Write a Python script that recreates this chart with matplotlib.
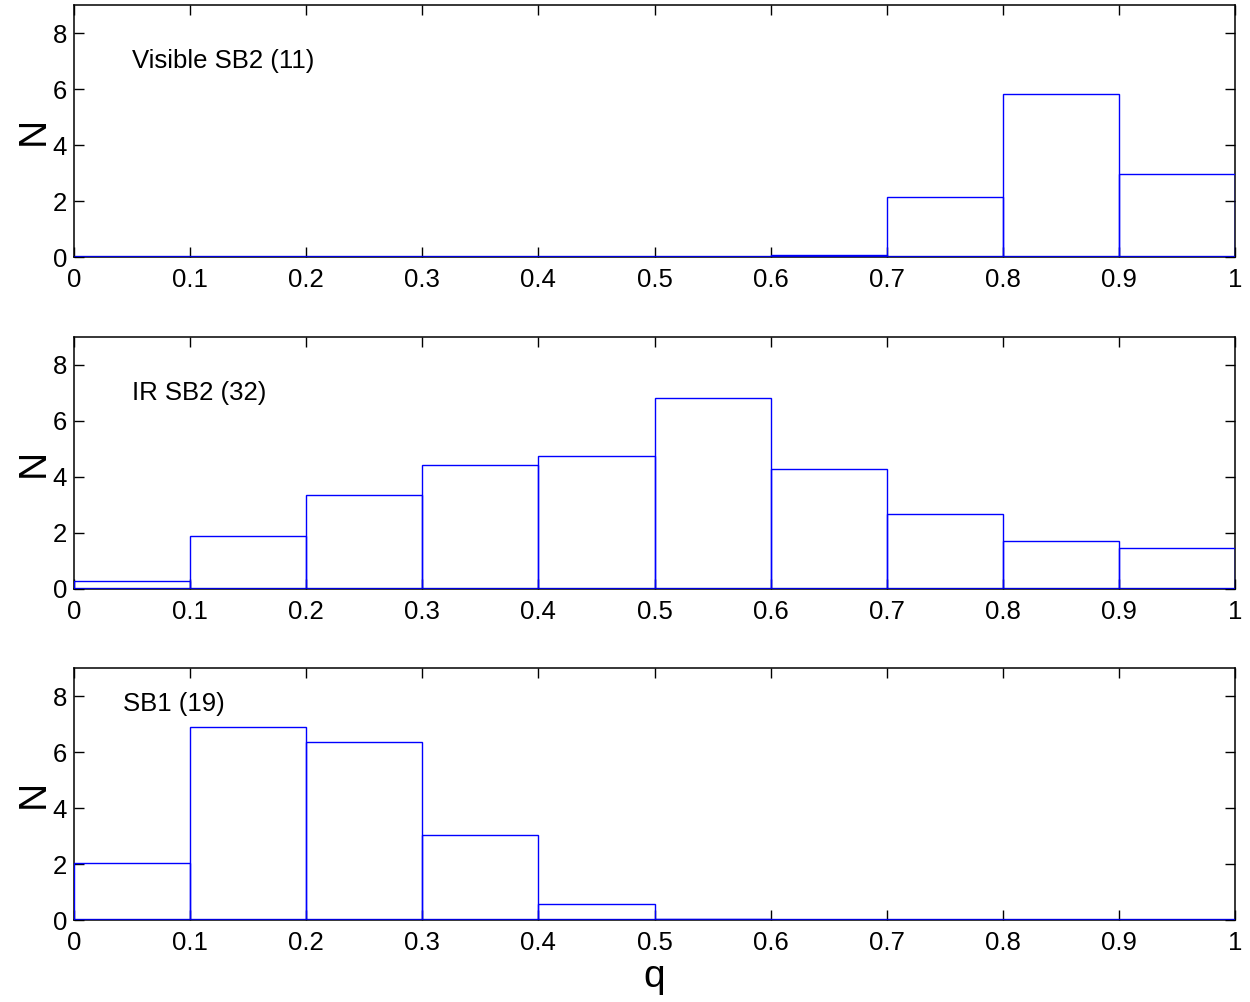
import numpy as np
import matplotlib
matplotlib.use("Agg")
import matplotlib.pyplot as plt

# Histogram bins of the mass ratio q
bin_edges = [0.0, 0.1, 0.2, 0.3, 0.4, 0.5, 0.6, 0.7, 0.8, 0.9, 1.0]

# Counts per bin for each sample
visible_sb2 = [0, 0, 0, 0, 0, 0, 0.08, 2.16, 5.82, 2.97]
ir_sb2 = [0.30, 1.88, 3.36, 4.43, 4.75, 6.83, 4.30, 2.69, 1.71, 1.46]
sb1 = [2.04, 6.88, 6.37, 3.04, 0.58, 0.04, 0, 0, 0, 0]

panel_labels = ["Visible SB2 (11)", "IR SB2 (32)", "SB1 (19)"]
label_pos = [(0.05, 7.0), (0.05, 7.0), (0.042, 7.7)]
series = [visible_sb2, ir_sb2, sb1]

x_ticks = [0, 0.1, 0.2, 0.3, 0.4, 0.5, 0.6, 0.7, 0.8, 0.9, 1]
x_ticklabels = ["0", "0.1", "0.2", "0.3", "0.4", "0.5", "0.6", "0.7", "0.8", "0.9", "1"]
y_ticks = [0, 2, 4, 6, 8]

plt.rcParams["font.family"] = ["Liberation Sans", "DejaVu Sans"]

fig = plt.figure(figsize=(12.5, 10.02), dpi=100)
left, width, height = 0.0592, 0.9288, 0.2515
bottoms = [0.7435, 0.4122, 0.0818]

for counts, label, (tx, ty), bottom in zip(series, panel_labels, label_pos, bottoms):
    ax = fig.add_axes([left, bottom, width, height])
    edges = np.array(bin_edges)
    ax.bar(edges[:-1], counts, width=np.diff(edges), align="edge",
           fill=False, edgecolor="#0000ff", linewidth=1.0, zorder=3)
    ax.plot([edges[0], edges[-1]], [0, 0], color="#0000dd", linewidth=2.4,
            zorder=4, solid_capstyle="butt")
    ax.set_xlim(0, 1)
    ax.set_ylim(0, 9)
    ax.set_xticks(x_ticks)
    ax.set_xticklabels(x_ticklabels)
    ax.set_yticks(y_ticks)
    ax.tick_params(direction="in", length=7.2, width=1.0, top=True, right=True,
                   labelsize=18.5, pad=5)
    ax.tick_params(axis="x", pad=8)
    for sp in ax.spines.values():
        sp.set_linewidth(1.1)
    ax.set_ylabel("N", fontsize=28, labelpad=1)
    ax.text(tx, ty, label, fontsize=18.5, va="center", ha="left")
    last_ax = ax

last_ax.set_xlabel("q", fontsize=28, labelpad=3)

fig.savefig("out.png", dpi=100)
